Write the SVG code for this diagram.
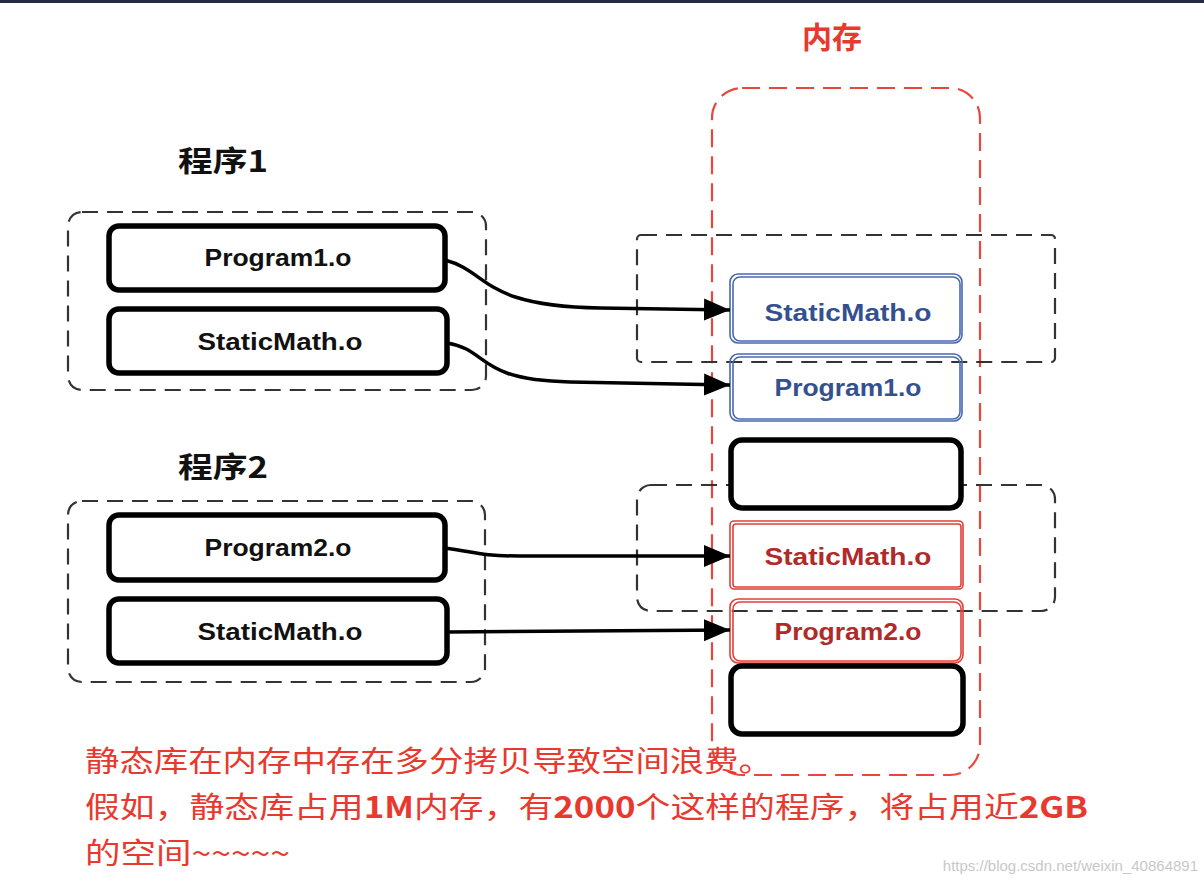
<svg xmlns="http://www.w3.org/2000/svg" width="1204" height="884" viewBox="0 0 1204 884">
<style>
.dash{fill:none;stroke:#333;stroke-width:2.2;stroke-dasharray:16 9}
.mem{fill:none;stroke:#e8483c;stroke-width:2.2;stroke-dasharray:18 9}
.blk{fill:#fff;stroke:#000;stroke-width:5.5}
.blu{fill:none;stroke:#4869b0;stroke-width:1.6}
.red{fill:none;stroke:#e0403a;stroke-width:1.6}
.lbl{font-family:"Liberation Sans",Arial,sans-serif;font-weight:bold;font-size:24px;text-anchor:middle}
.cjk{font-family:"Noto Sans CJK SC",sans-serif;font-weight:bold}
.note{font-family:"Noto Sans CJK SC",sans-serif;font-size:29px;fill:#e8392f}
.conn{fill:none;stroke:#000;stroke-width:3.5}
</style>
<defs>
<marker id="ah" markerUnits="userSpaceOnUse" markerWidth="28" markerHeight="24" refX="26" refY="12" orient="auto">
<path d="M0,1 L26,12 L0,23 z" fill="#000"/>
</marker>
</defs>
<rect x="0" y="0" width="1204" height="3" fill="#262b3f"/>
<rect x="0" y="3" width="1204" height="881" fill="#fff"/>

<g id="memory">
<rect class="mem" x="712" y="88" width="268" height="687" rx="30"/>
<text class="cjk" x="832" y="48" font-size="30" fill="#e8392f" text-anchor="middle">内存</text>
</g>

<g id="title1"><text class="cjk" x="178" y="172" font-size="29" fill="#111" textLength="90" lengthAdjust="spacingAndGlyphs">程序1</text></g>
<g id="title2"><text class="cjk" x="178" y="478" font-size="29" fill="#111" textLength="90" lengthAdjust="spacingAndGlyphs">程序2</text></g>

<g id="group1"><rect class="dash" x="68" y="212" width="418" height="178" rx="14"/></g>
<g id="group2"><rect class="dash" x="68" y="501" width="417" height="181" rx="14"/></g>
<g id="mgroup1"><rect class="dash" x="637" y="235" width="418" height="127" rx="4"/></g>
<g id="mgroup2"><rect class="dash" x="637" y="485" width="418" height="126" rx="14"/></g>

<g id="p1prog">
<rect class="blk" x="109" y="226" width="336" height="64" rx="10"/>
<text class="lbl" x="278" y="266" fill="#111" textLength="147" lengthAdjust="spacingAndGlyphs">Program1.o</text>
</g>
<g id="p1math">
<rect class="blk" x="109" y="309" width="338" height="64" rx="10"/>
<text class="lbl" x="280" y="350" fill="#111" textLength="165" lengthAdjust="spacingAndGlyphs">StaticMath.o</text>
</g>
<g id="p2prog">
<rect class="blk" x="109" y="515" width="336" height="65" rx="10"/>
<text class="lbl" x="278" y="556" fill="#111" textLength="147" lengthAdjust="spacingAndGlyphs">Program2.o</text>
</g>
<g id="p2math">
<rect class="blk" x="109" y="599" width="338" height="64" rx="10"/>
<text class="lbl" x="280" y="640" fill="#111" textLength="165" lengthAdjust="spacingAndGlyphs">StaticMath.o</text>
</g>

<g id="m1math">
<rect class="blu" x="730" y="274" width="232" height="69" rx="8"/>
<rect class="blu" x="733" y="277" width="227" height="64" rx="7"/>
<text class="lbl" x="848" y="321" fill="#34508f" textLength="167" lengthAdjust="spacingAndGlyphs">StaticMath.o</text>
</g>
<g id="m1prog">
<rect class="blu" x="730" y="354" width="232" height="67" rx="8"/>
<rect class="blu" x="733" y="357" width="227" height="62" rx="7"/>
<text class="lbl" x="848" y="396" fill="#34508f" textLength="147" lengthAdjust="spacingAndGlyphs">Program1.o</text>
</g>
<g id="mempty1">
<rect class="blk" x="731" y="440" width="230" height="68" rx="11"/>
</g>
<g id="m2math">
<rect class="red" x="730" y="521" width="233" height="68" rx="4"/>
<rect class="red" x="733" y="524" width="228" height="63" rx="3"/>
<text class="lbl" x="848" y="565" fill="#b02a2a" textLength="167" lengthAdjust="spacingAndGlyphs">StaticMath.o</text>
</g>
<g id="m2prog">
<rect class="red" x="730" y="599" width="233" height="64" rx="8"/>
<rect class="red" x="733" y="602" width="228" height="59" rx="7"/>
<text class="lbl" x="848" y="640" fill="#b02a2a" textLength="147" lengthAdjust="spacingAndGlyphs">Program2.o</text>
</g>
<g id="mempty2">
<rect class="blk" x="731" y="666" width="232" height="68" rx="11"/>
</g>

<g id="connectors">
<path class="conn" marker-end="url(#ah)" d="M445,260 C490,272 480,306 600,308 L730,310"/>
<path class="conn" marker-end="url(#ah)" d="M447,343 C490,350 475,380 570,382 L730,385"/>
<path class="conn" marker-end="url(#ah)" d="M445,548 C475,552 480,556 520,556 L730,556"/>
<path class="conn" marker-end="url(#ah)" d="M447,632 L730,630"/>
</g>

<g id="notes">
<text class="note" x="85" y="772" textLength="688" lengthAdjust="spacingAndGlyphs">静态库在内存中存在多分拷贝导致空间浪费。</text>
<text class="note" x="85" y="818" textLength="1003" lengthAdjust="spacingAndGlyphs">假如，静态库占用<tspan font-weight="bold">1M</tspan>内存，有<tspan font-weight="bold">2000</tspan>个这样的程序，将占用近<tspan font-weight="bold">2GB</tspan></text>
<text class="note" x="85" y="864" textLength="205" lengthAdjust="spacingAndGlyphs">的空间~~~~~</text>
</g>
<text x="1198" y="871" font-family="Liberation Sans,Arial,sans-serif" font-size="15" fill="#c8c8c8" text-anchor="end">https://blog.csdn.net/weixin_40864891</text>
</svg>
